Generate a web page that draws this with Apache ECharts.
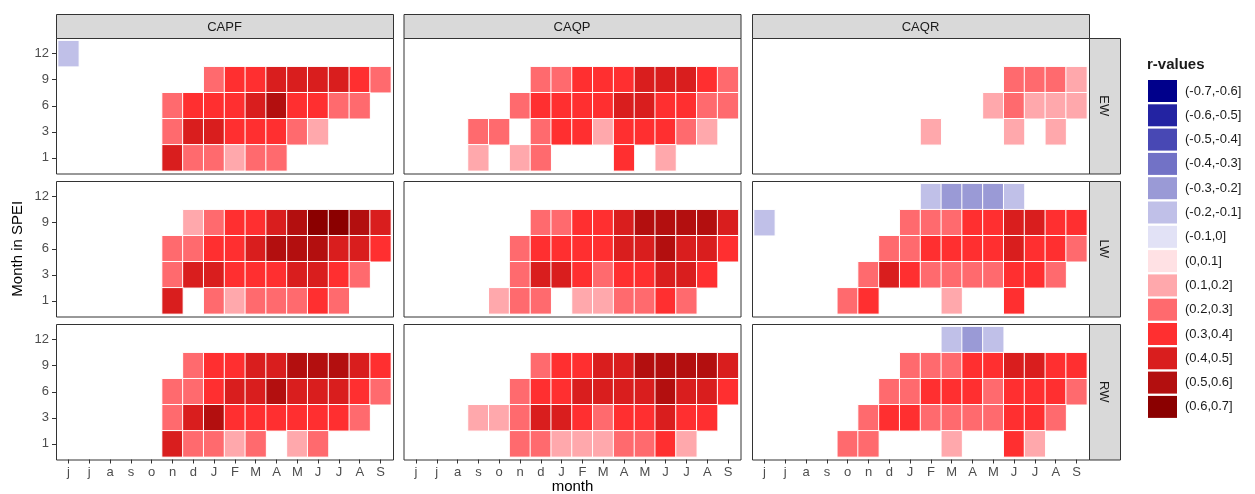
<!DOCTYPE html>
<html>
<head>
<meta charset="utf-8">
<script src="https://cdn.jsdelivr.net/npm/echarts@6/dist/echarts.min.js"></script>
<style>
  html, body { margin: 0; padding: 0; background: #ffffff; }
  #chart { width: 1255px; height: 494px; }
</style>
</head>
<body>
<div id="chart"></div>
<script>
const _ = null;

// x categories: month of the growth season (previous year lower case, current year upper case)
const months = ['j', 'j', 'a', 's', 'o', 'n', 'd', 'J', 'F', 'M', 'A', 'M', 'J', 'J', 'A', 'S'];
// y categories: SPEI accumulation period (months)
const speiScales = ['1', '3', '6', '9', '12'];
const chronologies = ['CAPF', 'CAQP', 'CAQR'];
const ringParts = ['EW', 'LW', 'RW'];

// correlation r-values; each block lists SPEI rows 12, 9, 6, 3, 1 (top to bottom)
const capfEW = [
  [-0.15, _, _, _, _, _, _, _, _, _, _, _, _, _, _, _],
  [_, _, _, _, _, _, _, 0.25, 0.35, 0.35, 0.45, 0.45, 0.45, 0.45, 0.35, 0.25],
  [_, _, _, _, _, 0.25, 0.35, 0.35, 0.35, 0.45, 0.55, 0.35, 0.35, 0.25, 0.25, _],
  [_, _, _, _, _, 0.25, 0.45, 0.45, 0.35, 0.35, 0.35, 0.25, 0.15, _, _, _],
  [_, _, _, _, _, 0.45, 0.25, 0.25, 0.15, 0.25, 0.25, _, _, _, _, _]
];
const caqpEW = [
  [_, _, _, _, _, _, _, _, _, _, _, _, _, _, _, _],
  [_, _, _, _, _, _, 0.25, 0.25, 0.35, 0.35, 0.35, 0.45, 0.45, 0.45, 0.35, 0.25],
  [_, _, _, _, _, 0.25, 0.35, 0.35, 0.35, 0.35, 0.45, 0.45, 0.35, 0.35, 0.25, 0.25],
  [_, _, _, 0.25, 0.25, _, 0.25, 0.35, 0.35, 0.15, 0.35, 0.35, 0.35, 0.25, 0.15, _],
  [_, _, _, 0.15, _, 0.15, 0.25, _, _, _, 0.35, _, 0.15, _, _, _]
];
const caqrEW = [
  [_, _, _, _, _, _, _, _, _, _, _, _, _, _, _, _],
  [_, _, _, _, _, _, _, _, _, _, _, _, 0.25, 0.25, 0.25, 0.15],
  [_, _, _, _, _, _, _, _, _, _, _, 0.15, 0.25, 0.15, 0.15, 0.15],
  [_, _, _, _, _, _, _, _, 0.15, _, _, _, 0.15, _, 0.15, _],
  [_, _, _, _, _, _, _, _, _, _, _, _, _, _, _, _]
];
const capfLW = [
  [_, _, _, _, _, _, _, _, _, _, _, _, _, _, _, _],
  [_, _, _, _, _, _, 0.15, 0.25, 0.35, 0.35, 0.45, 0.55, 0.65, 0.65, 0.55, 0.45],
  [_, _, _, _, _, 0.25, 0.25, 0.35, 0.35, 0.45, 0.55, 0.55, 0.55, 0.45, 0.45, 0.35],
  [_, _, _, _, _, 0.25, 0.45, 0.45, 0.35, 0.35, 0.35, 0.45, 0.45, 0.35, 0.25, _],
  [_, _, _, _, _, 0.45, _, 0.25, 0.15, 0.25, 0.25, 0.25, 0.35, 0.25, _, _]
];
const caqpLW = [
  [_, _, _, _, _, _, _, _, _, _, _, _, _, _, _, _],
  [_, _, _, _, _, _, 0.25, 0.25, 0.35, 0.35, 0.45, 0.55, 0.55, 0.55, 0.55, 0.45],
  [_, _, _, _, _, 0.25, 0.35, 0.35, 0.35, 0.35, 0.45, 0.45, 0.55, 0.45, 0.45, 0.35],
  [_, _, _, _, _, 0.25, 0.45, 0.45, 0.35, 0.25, 0.35, 0.35, 0.45, 0.45, 0.35, _],
  [_, _, _, _, 0.15, 0.25, 0.25, _, 0.15, 0.15, 0.25, 0.25, 0.35, 0.25, _, _]
];
const caqrLW = [
  [_, _, _, _, _, _, _, _, -0.15, -0.25, -0.25, -0.25, -0.15, _, _, _],
  [-0.15, _, _, _, _, _, _, 0.25, 0.25, 0.25, 0.35, 0.35, 0.45, 0.45, 0.35, 0.35],
  [_, _, _, _, _, _, 0.25, 0.25, 0.35, 0.35, 0.35, 0.35, 0.45, 0.35, 0.35, 0.25],
  [_, _, _, _, _, 0.25, 0.45, 0.35, 0.25, 0.25, 0.25, 0.25, 0.35, 0.35, 0.25, _],
  [_, _, _, _, 0.25, 0.35, _, _, _, 0.15, _, _, 0.35, _, _, _]
];
const capfRW = [
  [_, _, _, _, _, _, _, _, _, _, _, _, _, _, _, _],
  [_, _, _, _, _, _, 0.25, 0.35, 0.35, 0.45, 0.45, 0.55, 0.55, 0.55, 0.45, 0.35],
  [_, _, _, _, _, 0.25, 0.25, 0.35, 0.45, 0.45, 0.55, 0.45, 0.45, 0.45, 0.35, 0.25],
  [_, _, _, _, _, 0.25, 0.45, 0.55, 0.35, 0.35, 0.35, 0.35, 0.35, 0.35, 0.25, _],
  [_, _, _, _, _, 0.45, 0.25, 0.25, 0.15, 0.25, _, 0.15, 0.25, _, _, _]
];
const caqpRW = [
  [_, _, _, _, _, _, _, _, _, _, _, _, _, _, _, _],
  [_, _, _, _, _, _, 0.25, 0.35, 0.35, 0.45, 0.45, 0.55, 0.55, 0.55, 0.55, 0.45],
  [_, _, _, _, _, 0.25, 0.35, 0.35, 0.45, 0.45, 0.45, 0.45, 0.55, 0.45, 0.45, 0.35],
  [_, _, _, 0.15, 0.15, 0.25, 0.45, 0.45, 0.35, 0.25, 0.35, 0.35, 0.45, 0.35, 0.35, _],
  [_, _, _, _, _, 0.25, 0.25, 0.15, 0.15, 0.15, 0.25, 0.25, 0.35, 0.15, _, _]
];
const caqrRW = [
  [_, _, _, _, _, _, _, _, _, -0.15, -0.25, -0.15, _, _, _, _],
  [_, _, _, _, _, _, _, 0.25, 0.25, 0.25, 0.35, 0.35, 0.45, 0.45, 0.35, 0.35],
  [_, _, _, _, _, _, 0.25, 0.25, 0.35, 0.35, 0.35, 0.25, 0.35, 0.35, 0.35, 0.25],
  [_, _, _, _, _, 0.25, 0.35, 0.35, 0.25, 0.25, 0.25, 0.25, 0.35, 0.35, 0.25, _],
  [_, _, _, _, 0.25, 0.25, _, _, _, 0.15, _, _, 0.35, 0.15, _, _]
];

// r-value classes shown in the legend (top to bottom)
const binLabels = ['(-0.7,-0.6]', '(-0.6,-0.5]', '(-0.5,-0.4]', '(-0.4,-0.3]', '(-0.3,-0.2]',
  '(-0.2,-0.1]', '(-0.1,0]', '0-0.0]', '(0,0.1]', '(0.1,0.2]', '(0.2,0.3]', '(0.3,0.4]',
  '(0.4,0.5]', '(0.5,0.6]', '(0.6,0.7]'];
const binLower = [-0.7, -0.6, -0.5, -0.4, -0.3, -0.2, -0.1, 0, 0, 0.1, 0.2, 0.3, 0.4, 0.5, 0.6];
const binUpper = [-0.6, -0.5, -0.4, -0.3, -0.2, -0.1, 0, 0, 0.1, 0.2, 0.3, 0.4, 0.5, 0.6, 0.7];
const binColors = ['#00008b', '#2323a2', '#4848b4', '#7272c6', '#9a9ad6', '#c0c0e8', '#e2e2f6',
  '#ffffff', '#ffe1e4', '#ffa8ac', '#ff6a6e', '#ff2f30', '#d91e1e', '#b30f0f', '#8b0000'];

const panels = [
  [capfEW, caqpEW, caqrEW],
  [capfLW, caqpLW, caqrLW],
  [capfRW, caqpRW, caqrRW]
];

// facet layout (pixels); discrete scales are padded by 0.6 of a step on each side
const colLeft = [56, 403.5, 752];
const rowTop = [38, 181, 324];
const panelW = 337;
const panelH = 135.5;
const xUnit = panelW / (months.length + 0.2);
const yUnit = panelH / (speiScales.length + 0.2);
const stripTop = 14, stripH = 24;
const rightStripX = 1089, rightStripW = 31;
const fontFam = '"Liberation Sans", Arial, sans-serif';

const grids = [], xAxes = [], yAxes = [], series = [], graphics = [];

for (let r = 0; r < 3; r++) {
  for (let c = 0; c < 3; c++) {
    const gi = r * 3 + c;
    grids.push({
      left: colLeft[c] + 0.1 * xUnit,
      top: rowTop[r] + 0.1 * yUnit,
      width: months.length * xUnit,
      height: speiScales.length * yUnit,
      containLabel: false,
      outerBoundsMode: 'none'
    });
    const bottomRow = r === 2, leftCol = c === 0;
    xAxes.push({
      type: 'category', gridIndex: gi, data: months, position: 'bottom',
      offset: 0.1 * yUnit,
      axisLine: { show: false },
      axisTick: { show: bottomRow, alignWithLabel: true, length: 4, lineStyle: { color: '#333333' } },
      axisLabel: { show: bottomRow, interval: 0, color: '#4d4d4d', fontSize: 13, margin: 6, fontFamily: fontFam },
      splitLine: { show: false }
    });
    yAxes.push({
      type: 'category', gridIndex: gi, data: speiScales, position: 'left',
      offset: 0.1 * xUnit,
      axisLine: { show: false },
      axisTick: { show: leftCol, alignWithLabel: true, length: 4, lineStyle: { color: '#333333' } },
      axisLabel: { show: leftCol, interval: 0, color: '#4d4d4d', fontSize: 13, margin: 7, fontFamily: fontFam },
      splitLine: { show: false }
    });
    const block = panels[r][c];
    const data = [];
    block.forEach((row, k) => {
      row.forEach((v, i) => {
        if (v !== null) data.push([i, speiScales.length - 1 - k, v]);
      });
    });
    series.push({
      type: 'heatmap', xAxisIndex: gi, yAxisIndex: gi, data: data,
      itemStyle: { borderColor: '#ffffff', borderWidth: 1 },
      emphasis: { disabled: true },
      silent: true
    });
    // panel frame
    graphics.push({
      type: 'rect', z: 10, silent: true,
      shape: { x: colLeft[c] + 0.5, y: rowTop[r] + 0.5, width: panelW, height: panelH },
      style: { fill: 'none', stroke: '#333333', lineWidth: 1 }
    });
  }
}

// column strips
chronologies.forEach((name, c) => {
  graphics.push({
    type: 'rect', z: 10, silent: true,
    shape: { x: colLeft[c] + 0.5, y: stripTop + 0.5, width: panelW, height: stripH },
    style: { fill: '#d9d9d9', stroke: '#333333', lineWidth: 1 }
  });
  graphics.push({
    type: 'text', z: 11, silent: true,
    x: colLeft[c] + panelW / 2, y: stripTop + stripH / 2 + 1,
    style: { text: name, fill: '#1a1a1a', font: '13px ' + fontFam, align: 'center', verticalAlign: 'middle' }
  });
});

// row strips
ringParts.forEach((name, r) => {
  graphics.push({
    type: 'rect', z: 10, silent: true,
    shape: { x: rightStripX + 0.5, y: rowTop[r] + 0.5, width: rightStripW, height: panelH },
    style: { fill: '#d9d9d9', stroke: '#333333', lineWidth: 1 }
  });
  graphics.push({
    type: 'text', z: 11, silent: true,
    x: rightStripX + rightStripW / 2 - 1, y: rowTop[r] + panelH / 2,
    rotation: -Math.PI / 2,
    style: { text: name, fill: '#1a1a1a', font: '13px ' + fontFam, align: 'center', verticalAlign: 'middle' }
  });
});

// axis titles and legend title
graphics.push({
  type: 'text', silent: true, x: (colLeft[0] + rightStripX) / 2, y: 487,
  style: { text: 'month', fill: '#000000', font: '15px ' + fontFam, align: 'center', verticalAlign: 'middle' }
});
graphics.push({
  type: 'text', silent: true, x: 18, y: (rowTop[0] + rowTop[2] + panelH) / 2,
  rotation: Math.PI / 2,
  style: { text: 'Month in SPEI', fill: '#000000', font: '15px ' + fontFam, align: 'center', verticalAlign: 'middle' }
});
graphics.push({
  type: 'text', silent: true, x: 1147, y: 65,
  style: { text: 'r-values', fill: '#1a1a1a', font: 'bold 15px ' + fontFam, align: 'left', verticalAlign: 'middle' }
});

const pieces = binLabels.map((label, i) => {
  if (binLower[i] === binUpper[i]) return { value: binLower[i], label: label, color: binColors[i] };
  return { gt: binLower[i], lte: binUpper[i], label: label, color: binColors[i] };
});

const option = {
  animation: false,
  backgroundColor: '#ffffff',
  grid: grids,
  xAxis: xAxes,
  yAxis: yAxes,
  visualMap: {
    type: 'piecewise',
    dimension: 2,
    seriesIndex: series.map((s, i) => i),
    pieces: pieces,
    inverse: true,
    orient: 'vertical',
    align: 'left',
    left: 1148,
    top: 80,
    padding: 0,
    itemWidth: 29,
    itemHeight: 22,
    itemGap: 2.3,
    textGap: 8,
    itemSymbol: 'rect',
    selectedMode: false,
    hoverLink: false,
    textStyle: { color: '#1a1a1a', fontSize: 13, fontFamily: fontFam }
  },
  series: series,
  graphic: graphics
};

const chart = echarts.init(document.getElementById('chart'), null, { renderer: 'canvas' });
chart.setOption(option);
</script>
</body>
</html>
